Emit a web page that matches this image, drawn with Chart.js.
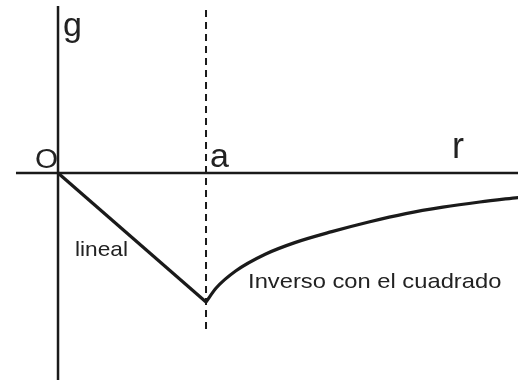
<!DOCTYPE html>
<html>
<head>
<meta charset="utf-8">
<script src="https://cdn.jsdelivr.net/npm/chart.js@4"></script>
<style>
  html, body { margin: 0; padding: 0; background: #fff; }
  #grafico { display: block; }
</style>
</head>
<body>
<canvas id="grafico" width="518" height="380"></canvas>
<script>
// r en unidades de a (a = 1), g en unidades de g(a)
const rMin = -0.392, rMax = 3.108;
const gMin = -1.605, gMax = 1.341;

const lineal = [
    { x: 0, y: 0 },
    { x: 1, y: -1 }
];
const inversoR = [1, 1.07, 1.2, 1.4, 1.6, 1.85, 2.1, 2.35, 2.6, 2.85, 3.11];
const inversoG = [-1, -0.89, -0.76, -0.63, -0.54, -0.455, -0.38, -0.315, -0.265, -0.225, -0.19];

const ejeR = [{ x: -0.284, y: 0 }, { x: 3.11, y: 0 }];
const ejeG = [{ x: 0, y: 1.295 }, { x: 0, y: -1.62 }];
const lineaA = [{ x: 1, y: 1.264 }, { x: 1, y: -1.233 }];

const etiquetas = ['g', 'O', 'a', 'r', 'lineal', 'Inverso con el cuadrado'];
const etiquetasR = [0.034, -0.155, 1.027, 2.662, 0.115, 1.284];
const etiquetasG = [1.062, 0.039, 0.047, 0.116, -0.643, -0.891];
const etiquetasTam = [34, 27, 34, 36, 21, 21];

let inverso = [];
for (i = 0; i < inversoR.length; i++) {
    inverso.push({ x: inversoR[i], y: inversoG[i] });
}

const textos = {
    id: 'textos',
    afterDatasetsDraw(chart) {
        const ctx = chart.ctx;
        const sx = chart.scales.x, sy = chart.scales.y;
        ctx.save();
        ctx.fillStyle = '#222';
        ctx.textBaseline = 'alphabetic';
        for (i = 0; i < etiquetas.length; i++) {
            const px = sx.getPixelForValue(etiquetasR[i]);
            const py = sy.getPixelForValue(etiquetasG[i]);
            ctx.save();
            ctx.translate(px, py);
            // el texto original sale algo ensanchado
            if (etiquetasTam[i] < 25) ctx.scale(etiquetas[i].length > 10 ? 1.13 : 1.08, 1);
            else if (etiquetas[i] == 'O') ctx.scale(1.1, 1);
            ctx.font = etiquetasTam[i] + 'px "Liberation Sans", Arial, sans-serif';
            ctx.fillText(etiquetas[i], 0, 0);
            ctx.restore();
        }
        ctx.restore();
    }
};

const linea = (datos, ancho, guiones) => ({
    data: datos,
    showLine: true,
    borderColor: '#1a1a1a',
    borderWidth: ancho,
    borderDash: guiones || [],
    pointRadius: 0,
    fill: false
});

let dados = {
    datasets: [
        linea(ejeR, 2.5),
        linea(ejeG, 2.5),
        linea(lineaA, 2, [7, 5]),
        linea(lineal, 3.2),
        Object.assign(linea(inverso, 3.2), { cubicInterpolationMode: 'monotone' })
    ]
};

const config = {
    type: 'scatter',
    data: dados,
    options: {
        responsive: false,
        animation: false,
        layout: { padding: 0 },
        plugins: { legend: { display: false }, tooltip: { enabled: false } },
        scales: {
            x: { type: 'linear', display: false, min: rMin, max: rMax },
            y: { type: 'linear', display: false, min: gMin, max: gMax }
        }
    },
    plugins: [textos]
};
var ctx = document.getElementById('grafico').getContext('2d');
let myChart = new Chart(ctx, config);
</script>
</body>
</html>
